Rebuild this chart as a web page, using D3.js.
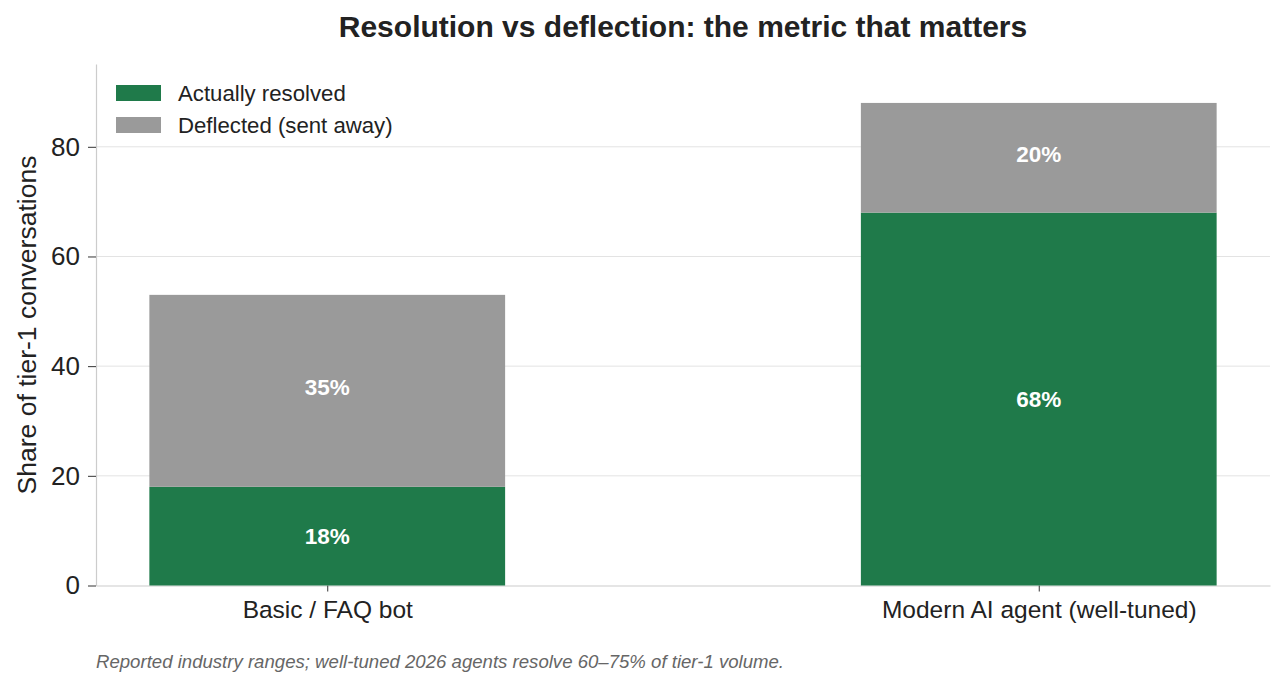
<!DOCTYPE html>
<html>
<head>
<meta charset="utf-8">
<script src="https://cdn.jsdelivr.net/npm/d3@7"></script>
<style>
  body { margin: 0; background: #fff; }
  svg { font-family: "Liberation Sans", Arial, sans-serif; }
</style>
</head>
<body>
<svg width="1286" height="689"></svg>
<script>
// data
var categories = ["Basic / FAQ bot", "Modern AI agent (well-tuned)"];
var resolved = [18, 68];
var deflected = [35, 20];
var seriesNames = ["Actually resolved", "Deflected (sent away)"];
var yTicks = [0, 20, 40, 60, 80];

var width = 1286, height = 689;
var padLeft = 96, padRight = 1270, padTop = 64, padBottom = 585.5;
var green = "#1f7a4a", grey = "#9a9a9a";

var svg = d3.select("svg");

var xScale = d3.scaleLinear()
    .domain([-0.325, 1.325])
    .range([padLeft, padRight]);
var yScale = d3.scaleLinear()
    .domain([0, 95.1])
    .range([padBottom, padTop]);
var barW = xScale(0.5) - xScale(0);

// grid
svg.append("g")
  .selectAll("line")
  .data(yTicks.slice(1))
  .enter()
  .append("line")
    .attr("x1", padLeft).attr("x2", padRight)
    .attr("y1", d => yScale(d)).attr("y2", d => yScale(d))
    .attr("stroke", "#e3e3e3")
    .attr("stroke-width", 1);

// axes
var yAxis = d3.axisLeft(yScale)
    .tickValues(yTicks)
    .tickSize(8)
    .tickPadding(8)
    .tickSizeOuter(0);
var gy = svg.append("g")
    .attr("transform", `translate(${padLeft}, 0)`)
    .call(yAxis);
gy.select(".domain").attr("stroke", "#cccccc").attr("stroke-width", 1.2);
gy.selectAll(".tick line").attr("stroke", "#333");
gy.selectAll("text").style("font-size", "26px").attr("fill", "#222");

var xAxis = d3.axisBottom(xScale)
    .tickValues([0, 1])
    .tickFormat((d, i) => categories[i])
    .tickSize(6)
    .tickPadding(9)
    .tickSizeOuter(0);
var gx = svg.append("g")
    .attr("transform", `translate(0, ${padBottom})`)
    .call(xAxis);
gx.select(".domain").attr("stroke", "#cccccc").attr("stroke-width", 1.2);
gx.selectAll(".tick line").attr("stroke", "#333");
gx.selectAll("text").style("font-size", "24.5px").attr("fill", "#222");

// bars
var bars = svg.append("g");
categories.forEach(function (c, i) {
  bars.append("rect")
    .attr("x", xScale(i) - barW / 2)
    .attr("width", barW)
    .attr("y", yScale(resolved[i]))
    .attr("height", yScale(0) - yScale(resolved[i]))
    .attr("fill", green);
  bars.append("rect")
    .attr("x", xScale(i) - barW / 2)
    .attr("width", barW)
    .attr("y", yScale(resolved[i] + deflected[i]))
    .attr("height", yScale(resolved[i]) - yScale(resolved[i] + deflected[i]))
    .attr("fill", grey);
  bars.append("text")
    .attr("x", xScale(i))
    .attr("y", yScale(resolved[i] / 2))
    .attr("dy", "0.35em")
    .style("text-anchor", "middle")
    .style("font-size", "22.5px")
    .style("font-weight", "bold")
    .attr("fill", "#fff")
    .text(resolved[i] + "%");
  bars.append("text")
    .attr("x", xScale(i))
    .attr("y", yScale(resolved[i] + deflected[i] / 2))
    .attr("dy", "0.2em")
    .style("text-anchor", "middle")
    .style("font-size", "22.5px")
    .style("font-weight", "bold")
    .attr("fill", "#fff")
    .text(deflected[i] + "%");
});

// legend
var legend = svg.append("g");
[green, grey].forEach(function (col, i) {
  legend.append("rect")
    .attr("x", 116).attr("y", 85 + i * 32)
    .attr("width", 45).attr("height", 16)
    .attr("fill", col);
  legend.append("text")
    .attr("x", 178).attr("y", 93 + i * 32)
    .attr("dy", "0.35em")
    .style("font-size", "22.2px")
    .attr("fill", "#222")
    .text(seriesNames[i]);
});

// y label
svg.append("text")
  .attr("transform", "rotate(-90)")
  .attr("x", -325)
  .attr("y", 36)
  .style("text-anchor", "middle")
  .style("font-size", "26.5px")
  .attr("fill", "#222")
  .text("Share of tier-1 conversations");

// title
svg.append("text")
  .attr("x", 683)
  .attr("y", 37)
  .style("text-anchor", "middle")
  .style("font-size", "30px")
  .style("font-weight", "bold")
  .attr("fill", "#222")
  .text("Resolution vs deflection: the metric that matters");

// footnote
svg.append("text")
  .attr("x", 96)
  .attr("y", 668)
  .style("font-size", "18.6px")
  .style("font-style", "italic")
  .attr("fill", "#666")
  .text("Reported industry ranges; well-tuned 2026 agents resolve 60\u201375% of tier-1 volume.");
</script>
</body>
</html>
